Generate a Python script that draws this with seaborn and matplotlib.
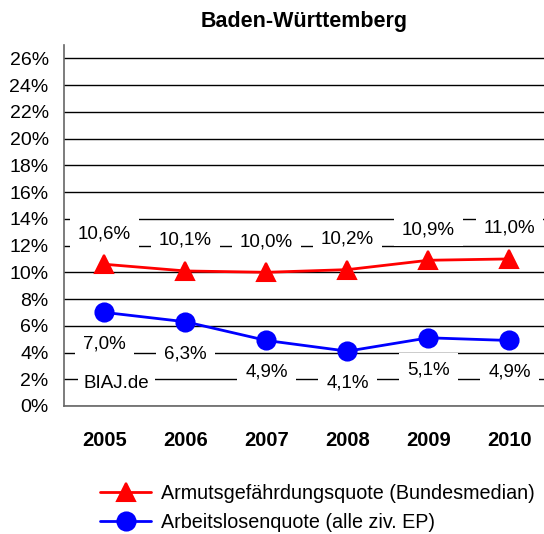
import matplotlib
matplotlib.use("Agg")
import matplotlib.pyplot as plt
import seaborn as sns
import pandas as pd
import numpy as np

years = ["2005", "2006", "2007", "2008", "2009", "2010"]
armut = [10.6, 10.1, 10.0, 10.2, 10.9, 11.0]
alq = [7.0, 6.3, 4.9, 4.1, 5.1, 4.9]
name_armut = "Armutsgefährdungsquote (Bundesmedian)"
name_alq = "Arbeitslosenquote (alle ziv. EP)"
title = "Baden-Württemberg"
source = "BIAJ.de"
yticks = list(range(0, 27, 2))

sns.set_style("white")
plt.rcParams["font.family"] = ["Liberation Sans", "DejaVu Sans"]
plt.rcParams["text.color"] = "black"
plt.rcParams["xtick.color"] = "black"
plt.rcParams["ytick.color"] = "black"

fig = plt.figure(figsize=(5.44, 5.34), dpi=100)
ax = fig.add_axes([64/544, 1-406/534, (544-64)/544, (406-45)/534])

df = pd.DataFrame({"Jahr": years, "armut": armut, "alq": alq})

for y in yticks:
    ax.axhline(y, color="black", lw=1.0, zorder=1)

sns.pointplot(data=df, x="Jahr", y="armut", color="#ff0000", marker="^",
              markersize=13, linewidth=2, ax=ax, label=name_armut, zorder=5)
sns.pointplot(data=df, x="Jahr", y="alq", color="#0000ff", marker="o",
              markersize=13, linewidth=2, ax=ax, label=name_alq, zorder=5)

bbox = dict(boxstyle="square,pad=0.42", fc="white", ec="none")
for i, v in enumerate(armut):
    ax.annotate(f"{v:.1f}%".replace(".", ","), (i, v), xytext=(0, 22),
                textcoords="offset points", ha="center", va="center",
                fontsize=13.5, bbox=bbox, zorder=3)
for i, v in enumerate(alq):
    ax.annotate(f"{v:.1f}%".replace(".", ","), (i, v), xytext=(0, -23),
                textcoords="offset points", ha="center", va="center",
                fontsize=13.5, bbox=bbox, zorder=3)

ax.text(-0.26, 1.7, source, ha="left", va="center", fontsize=13.5,
        bbox=dict(boxstyle="square,pad=0.3", fc="white", ec="none"), zorder=3)

ax.set_xlim(-0.5, 5.426)
ax.set_ylim(0, 27)
ax.set_yticks(yticks)
ax.set_yticklabels([f"{t}%" for t in yticks], fontsize=14)
ax.tick_params(axis="y", length=0, pad=11)
ax.set_xticks(range(len(years)))
ax.set_xticklabels(years, fontsize=14.5, fontweight="bold")
ax.set_xticks(np.arange(0.5, 5, 1), minor=True)
ax.tick_params(axis="x", which="major", length=0, pad=18)
ax.tick_params(axis="x", which="minor", length=5, direction="in", color="#555555")
ax.set_xlabel("")
ax.set_ylabel("")
for s in ["top", "right"]:
    ax.spines[s].set_visible(False)
ax.spines["left"].set_color("#666666")
ax.spines["bottom"].set_color("#666666")
ax.spines["left"].set_linewidth(1.2)
ax.spines["bottom"].set_linewidth(1.2)

fig.text((64+544)/2/544, 1-22/534, title, ha="center", va="center",
         fontsize=15.5, fontweight="bold")

ax.legend(loc="upper left", bbox_to_anchor=(100/544, 1-484/534),
          bbox_transform=fig.transFigure, frameon=False, fontsize=14.2,
          handlelength=2.6, handletextpad=0.5, labelspacing=0.5,
          borderaxespad=0, borderpad=0)

fig.savefig("out.png", dpi=100)
